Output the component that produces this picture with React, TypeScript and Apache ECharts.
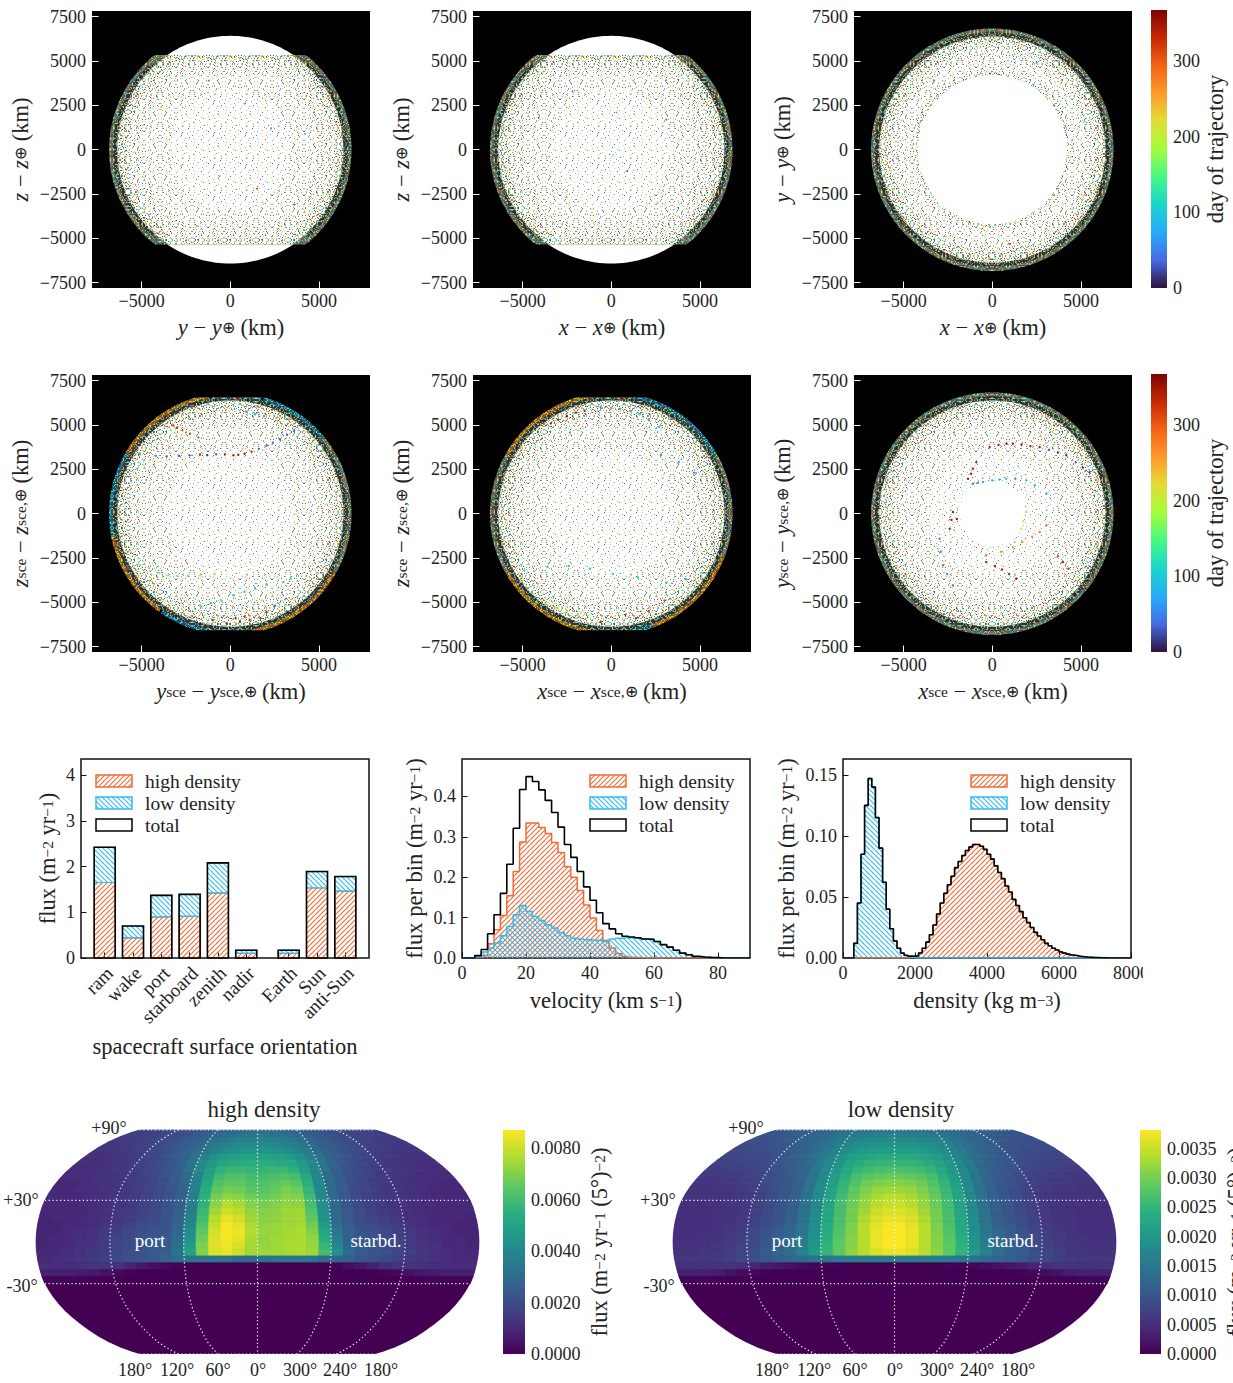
import React, { useEffect, useRef } from "react";
import * as echarts from "echarts";

const FONT = "Liberation Serif";
const INK = "#222";
const ORANGE = "#EE6B37";
const BLUE = "#33BBEE";

// ---------- values ----------
const SURFACES = ["ram", "wake", "port", "starboard", "zenith", "nadir", "Earth", "Sun", "anti-Sun"];
const SURFACE_POS = [0, 1, 2, 3, 4, 5, 6.5, 7.5, 8.5];
const SURFACE_HIGH = [1.65, 0.44, 0.9, 0.91, 1.42, 0.1, 0.1, 1.53, 1.46];
const SURFACE_LOW = [0.77, 0.26, 0.47, 0.48, 0.66, 0.07, 0.07, 0.36, 0.32];

const VEL_BIN = 2;
const VEL_HIGH = [0, 0, 0.003, 0.006, 0.035, 0.07, 0.105, 0.154, 0.214, 0.287, 0.334, 0.334, 0.323, 0.308, 0.286, 0.261, 0.226, 0.2, 0.167, 0.131, 0.099, 0.068, 0.041, 0.025, 0.011, 0.004, 0.002, 0.001, 0, 0, 0, 0, 0, 0, 0, 0, 0, 0, 0, 0, 0, 0, 0, 0, 0];
const VEL_LOW = [0, 0, 0.003, 0.015, 0.025, 0.037, 0.055, 0.078, 0.107, 0.13, 0.115, 0.103, 0.093, 0.082, 0.074, 0.063, 0.055, 0.049, 0.047, 0.045, 0.044, 0.044, 0.044, 0.047, 0.049, 0.05, 0.05, 0.049, 0.047, 0.046, 0.041, 0.033, 0.027, 0.019, 0.012, 0.008, 0.004, 0.0025, 0.0015, 0.001, 0, 0, 0, 0, 0];

const DENS_BIN = 100;
const DENS_LOW = [0, 0, 0, 0.012, 0.045, 0.085, 0.125, 0.147, 0.14, 0.115, 0.09, 0.062, 0.04, 0.024, 0.014, 0.008, 0.004, 0.002, 0.001, 0.0005, 0.0002, 0.0001, 0, 0, 0, 0, 0, 0, 0, 0, 0, 0, 0, 0, 0, 0, 0, 0, 0, 0, 0, 0, 0, 0, 0, 0, 0, 0, 0, 0, 0, 0, 0, 0, 0, 0, 0, 0, 0, 0, 0, 0, 0, 0, 0, 0, 0, 0, 0, 0, 0, 0, 0, 0, 0, 0, 0, 0, 0, 0];
const DENS_HIGH = [0, 0, 0, 0, 0, 0, 0, 0, 0, 0, 0, 0, 0, 0, 0, 0, 0, 0.0002, 0.0005, 0.001, 0.0015, 0.004, 0.008, 0.013, 0.019, 0.027, 0.036, 0.045, 0.053, 0.06, 0.067, 0.074, 0.079, 0.084, 0.088, 0.091, 0.093, 0.093, 0.0915, 0.089, 0.085, 0.081, 0.0755, 0.07, 0.065, 0.059, 0.054, 0.048, 0.043, 0.038, 0.033, 0.029, 0.025, 0.021, 0.018, 0.015, 0.012, 0.01, 0.008, 0.0065, 0.005, 0.004, 0.0032, 0.0025, 0.002, 0.0015, 0.0011, 0.0008, 0.0006, 0.0004, 0.0003, 0.0002, 0.0001, 0, 0, 0, 0, 0, 0, 0];

// sky maps: rows from lat 90 down to -30 in 5 degree steps, columns lon -180..170 in 10 degree steps
const SKY_HIGH = [ // units of 1e-4
  [17,17,18,18,19,19,20,21,22,23,24,25,27,28,29,30,31,32,32,32,31,30,29,28,27,25,24,23,22,21,20,19,19,18,18,17],
  [16,16,17,18,18,19,20,21,22,24,25,27,29,31,32,33,34,34,35,34,33,32,31,29,27,25,24,22,21,20,19,18,18,17,17,16],
  [15,15,16,17,18,19,20,21,23,25,27,29,31,33,35,37,38,38,38,38,37,36,34,31,29,26,24,23,21,20,19,18,17,16,16,15],
  [14,14,15,16,17,18,19,21,23,25,27,30,33,36,38,40,41,41,41,41,40,38,36,33,30,27,25,23,21,19,18,17,16,15,15,14],
  [13,13,14,15,16,17,19,20,22,25,28,31,35,39,42,44,45,45,45,45,44,42,39,35,31,28,25,22,20,19,17,16,15,14,14,13],
  [12,12,13,14,15,16,18,19,22,25,28,33,38,43,47,49,50,50,50,50,49,47,43,38,33,28,25,22,19,18,16,15,14,13,13,12],
  [12,12,12,13,14,15,17,19,21,24,28,34,41,47,51,53,54,54,54,54,53,52,47,41,34,28,24,21,19,17,15,14,13,12,12,12],
  [11,11,12,13,14,15,16,18,20,23,27,33,41,49,55,58,58,57,57,58,58,55,48,40,33,27,23,20,18,16,15,14,13,12,11,11],
  [11,11,11,12,13,14,15,17,19,22,25,30,38,50,59,62,62,60,60,61,62,60,52,40,31,26,22,19,17,15,14,13,12,11,11,11],
  [10,10,11,12,13,14,15,16,18,21,24,29,38,52,62,65,65,62,62,64,66,64,55,41,31,25,21,18,16,15,13,12,11,11,10,10],
  [10,10,11,11,12,13,14,16,18,20,23,28,38,54,65,68,67,64,64,66,69,67,57,41,30,25,20,18,16,14,13,12,11,10,10,10],
  [10,10,10,11,12,13,14,15,17,20,22,27,36,55,68,72,71,67,66,68,71,70,59,41,30,24,20,17,15,14,13,12,11,10,10,10],
  [10,10,10,11,11,12,13,15,17,19,22,27,36,56,71,77,75,70,68,70,72,72,61,43,30,24,19,17,15,13,12,11,11,10,10,10],
  [10,10,10,10,11,12,14,15,17,19,22,27,37,58,74,80,78,72,70,71,74,74,63,44,30,24,20,17,15,13,12,11,10,10,10,10],
  [9,10,10,10,11,12,14,16,18,20,22,27,38,60,77,84,81,74,71,72,74,75,65,45,30,24,20,18,16,14,12,11,10,10,10,9],
  [9,9,10,10,11,13,15,17,20,21,22,28,40,62,79,86,83,76,72,73,74,75,67,48,32,25,21,20,17,15,13,11,10,10,9,9],
  [9,9,10,11,12,14,16,19,21,22,23,29,42,65,81,86,85,77,73,73,75,76,70,51,34,26,22,21,19,16,14,12,11,10,9,9],
  [9,10,10,11,12,15,17,19,22,23,24,30,44,67,82,86,84,76,72,74,75,76,72,54,37,27,23,22,19,17,15,12,11,10,10,9],
  [9,10,10,12,13,15,18,20,22,24,25,32,47,69,83,85,82,75,73,74,76,76,73,57,40,28,24,23,20,18,15,13,12,10,10,9],
  [10,10,11,12,14,16,18,21,22,25,26,34,50,70,82,84,80,74,74,74,75,76,74,60,43,30,25,23,21,18,16,14,12,11,10,10],
  [10,11,12,13,15,17,19,21,22,24,28,31,33,34,34,33,30,30,32,33,34,34,33,30,28,26,23,21,19,17,15,13,12,11,10,10],
  [11,11,11,12,13,13,12,9,6,4,2,1,0,0,0,0,0,0,0,0,0,0,0,0,1,3,5,8,11,13,13,12,11,11,11,11],
  [8,8,8,7,6,4,2,1,0,0,0,0,0,0,0,0,0,0,0,0,0,0,0,0,0,0,0,0,1,2,4,6,7,8,8,8],
  [1,1,1,1,0,0,0,0,0,0,0,0,0,0,0,0,0,0,0,0,0,0,0,0,0,0,0,0,0,0,0,0,1,1,1,1],
];
const SKY_LOW_LEFT = [ // units of 1e-5, lon -180..-10, right half read as its mirror
  [110,110,115,115,120,120,125,125,130,130,135,135,140,140,145,145,150,150],
  [100,100,105,110,115,120,125,130,135,140,145,150,155,160,165,165,165,170],
  [95,95,100,105,110,115,120,125,130,140,150,160,165,170,175,180,180,180],
  [90,90,95,95,100,105,115,120,130,140,150,165,175,185,190,195,195,195],
  [85,85,90,90,95,100,110,115,125,140,155,170,185,195,205,210,210,210],
  [80,80,85,85,90,95,105,115,125,140,155,175,195,210,220,225,230,230],
  [75,75,80,80,85,90,100,110,120,135,155,180,200,220,235,245,250,250],
  [70,70,75,75,80,85,95,105,115,130,155,180,205,230,250,260,265,270],
  [65,65,70,70,75,80,90,100,110,125,150,180,210,240,265,280,285,290],
  [60,60,65,65,70,75,85,95,105,120,150,180,215,250,275,295,305,310],
  [55,55,60,60,65,70,80,90,105,120,145,180,220,255,285,305,320,325],
  [55,55,55,55,60,65,75,90,100,120,145,180,220,260,290,315,330,340],
  [50,50,55,55,60,65,75,85,100,115,145,180,220,265,295,320,340,350],
  [50,50,50,55,55,65,75,85,100,115,145,180,225,265,300,325,350,360],
  [50,50,50,55,55,65,75,90,100,115,145,185,225,270,300,335,360,370],
  [50,50,50,55,60,65,75,90,105,120,150,185,230,270,305,340,365,378],
  [50,50,50,55,60,70,80,95,110,125,150,190,235,275,305,340,370,380],
  [50,50,55,55,65,70,85,100,115,130,155,195,240,280,310,340,370,380],
  [55,55,55,60,65,75,85,105,115,135,165,200,245,285,310,340,370,380],
  [55,55,60,60,70,80,90,110,120,140,170,205,250,285,315,340,360,370],
  [60,60,60,65,70,80,90,105,115,125,135,145,150,155,160,160,160,160],
  [55,55,55,55,55,50,40,30,25,20,12,7,3,2,1,0,0,0],
  [35,35,35,30,20,12,6,3,1,0,0,0,0,0,0,0,0,0],
  [5,5,3,1,0,0,0,0,0,0,0,0,0,0,0,0,0,0],
];

// a sample of individually legible impacts [km, km, day]; the dense field behind them is a texture
const PTS_YZ = [[-1200,3900,300],[800,2600,110],[2300,1200,60],[-2800,-900,190],[1500,-2200,330],[-300,-3700,150],[3600,-3100,30],[-3900,2400,240],[4200,900,90],[-1900,-4300,280],[300,700,170],[-600,-1500,70]];
const PTS_XZ = [[-2200,3300,60],[1200,3900,210],[3100,1700,310],[-3500,-400,130],[900,-1200,20],[2600,-3000,260],[-1000,-4100,180],[-4100,1800,340],[300,2100,100],[4000,-1500,50],[-2500,-2700,230],[100,-300,150]];
const PTS_XY = [[-3300,3900,300],[2500,4900,40],[5200,1600,120],[5100,-2600,220],[1000,-5300,330],[-2600,-4900,160],[-5400,-500,70],[-4800,2800,250],[3900,3900,190],[-500,5100,100]];
const PTS_YZ_SCE = [[3930,4980,40],[3600,4700,40],[3200,4450,30],[2800,4200,30],[2400,4000,35],[2050,3850,30],[1600,3650,40],[1200,3500,330],[800,3380,340],[450,3320,350],[170,3290,340],[-300,3350,330],[-800,3350,30],[-1300,3300,20],[-1710,3330,340],[-2300,3290,30],[-2900,3260,25],[-3590,3230,30],[-4200,3260,60],[-5100,3380,70],[-3215,4980,320],[-3000,4850,330],[-2700,4700,310],[-2275,4510,320],[-1800,4300,300],[3300,5300,260],[2600,5400,270],[1900,5500,70],[1400,5600,80],[900,5750,70],[-5100,-2900,170],[-4600,-3050,165],[-4000,-3350,160],[-3590,-3480,170],[-3000,-3500,165],[-2400,-3500,160],[-1710,-3480,170],[-900,-3400,175],[3400,-3650,120],[2990,-3850,110],[2050,-4000,100],[1400,-4200,105],[800,-4400,110],[170,-4600,100],[-500,-4900,110],[-1100,-5050,95],[-1700,-5170,115],[300,-5900,330],[545,-6100,340],[800,-5800,330],[1100,-6000,320],[2050,-5550,330],[1700,-5900,340],[-200,-6200,345],[2500,-5200,30],[-1000,-6000,350]];
const PTS_XZ_SCE = [[-600,6000,60],[0,5950,70],[500,5900,65],[1100,5800,70],[1600,5600,75],[2100,5300,80],[2700,4900,75],[-3400,5100,330],[-3000,5300,340],[-2500,5500,350],[-2000,5700,330],[-1500,5800,20],[-4200,-5000,170],[-3700,-5100,160],[-3100,-5300,170],[-2500,-5500,165],[-1900,-5700,175],[-4900,-3200,110],[-3600,-3000,100],[-2400,-2950,90],[-1200,-3100,110],[100,-3400,120],[1500,-3600,100],[3100,-3900,80],[4200,-3700,70],[800,-5700,330],[1400,-5900,340],[2100,-5500,320],[3000,-4900,310],[-600,-6100,340],[2800,3300,60],[3800,2900,55],[4700,2300,70]];
const PTS_XY_SCE = [[-150,3760,340],[350,3880,345],[800,3950,350],[1165,3950,350],[1650,3900,355],[2150,3820,345],[2670,3760,340],[3200,3600,30],[3700,3450,20],[4170,3290,350],[4700,2900,30],[5100,2600,340],[5490,2350,25],[-1090,1690,50],[-800,1750,55],[-530,1790,60],[0,1880,70],[400,1930,85],[790,1970,95],[1300,1950,80],[1920,1880,90],[2400,1600,70],[3050,1130,65],[-1370,1970,345],[-1200,2250,350],[-1090,2540,340],[-900,2900,345],[-2220,90,350],[-2300,-350,345],[-2400,-850,340],[-2000,-300,350],[-2970,-1410,50],[-2900,-2150,55],[-2780,-2910,45],[-2550,-3400,50],[-2220,-4040,60],[-340,-2730,345],[150,-2950,350],[550,-3150,345],[950,-3400,340],[1350,-3670,350],[3050,-660,290],[2670,-1030,280],[2250,-1300,270],[1700,-1600,260],[1165,-1880,265],[500,-2150,270],[-340,-2350,285],[1920,90,170],[1750,-400,180],[1640,-850,190],[3990,-2730,335],[3700,-2400,320],[4300,-3100,340]];

// ---------- colormaps ----------
const TURBO = ["#30123b", "#466be3", "#28abf8", "#18d6cb", "#46f884", "#a4fc3c", "#e1dd37", "#fe9b2d", "#f36315", "#c72803", "#7a0403"];
const VIRIDIS = ["#440154", "#472d7b", "#3b528b", "#2c728e", "#21918c", "#28ae80", "#5ec962", "#addc30", "#fde725"];
const hex = (h: string) => [1, 3, 5].map((i) => parseInt(h.slice(i, i + 2), 16));
const sample = (map: string[], t: number) => {
  const p = Math.max(0, Math.min(0.99999, t)) * (map.length - 1);
  const i = Math.floor(p);
  const a = hex(map[i]), b = hex(map[i + 1]), f = p - i;
  return `rgb(${a.map((v, k) => Math.round(v + (b[k] - v) * f)).join(",")})`;
};
const stops = (map: string[]) => map.map((c, i) => ({ offset: i / (map.length - 1), color: c }));

// ---------- textures ----------
const SPECK_TILE = [
  "..3.......7.......1.........9...",
  ".........................4......",
  "......8.......2........6........",
  ".1..............9.............3.",
  "...........5..........0.........",
  "....6................7.....2....",
  "..............3.................",
  "8.........1..........9......5...",
  "......4.............2...........",
  "...........7.................0..",
  ".2...............6.......8......",
  ".........9......................",
  "....5...........1.......3.......",
  "...............................7",
  "..7........3..........5.........",
  "..........................1.....",
  "......0..........8..............",
  ".3.............4.........6......",
  "..........6...............9.....",
  "....9................2..........",
  "................7..........4....",
  ".5.......2......................",
  "...........8..........1.......6.",
  "...1.............0..............",
  ".......7..................3.....",
  "..............5.........8.......",
  ".9......3..............4........",
  ".....................6..........",
  "...6...........2.............1..",
  "............9..........7........",
  "..4...................0......8..",
  "........1........5..............",
];
const N = SPECK_TILE.length;
const at = (x: number, y: number) => SPECK_TILE[y][x] || ".";
const VIEWS: ((x: number, y: number) => string)[] = [
  (x, y) => at(x, y),
  (x, y) => at(N - 1 - x, y),
  (x, y) => at(x, N - 1 - y),
  (x, y) => at(y, x),
  (x, y) => at(N - 1 - y, x),
  (x, y) => at(y, N - 1 - x),
  (x, y) => at(N - 1 - x, N - 1 - y),
  (x, y) => at(N - 1 - y, N - 1 - x),
];
function speckle(layers: number, bg: string, alpha: number, lo: number, hi: number) {
  const c = document.createElement("canvas");
  c.width = c.height = N;
  const g = c.getContext("2d")!;
  g.fillStyle = bg;
  g.fillRect(0, 0, N, N);
  g.globalAlpha = alpha;
  for (let y = 0; y < N; y++) for (let x = 0; x < N; x++) {
    for (let v = 0; v < layers; v++) {
      const ch = VIEWS[v](x, y);
      if (ch !== ".") {
        g.fillStyle = sample(TURBO, lo + ((+ch + 0.5) / 10) * (hi - lo));
        g.fillRect(x, y, 1, 1);
      }
    }
  }
  return { image: c, repeat: "repeat", imageWidth: N, imageHeight: N };
}
function hatch(color: string, forward: boolean, size = 5) {
  const c = document.createElement("canvas");
  c.width = c.height = size;
  const g = c.getContext("2d")!;
  g.strokeStyle = color;
  g.lineWidth = 1.15;
  for (const o of [-size, 0, size]) {
    g.beginPath();
    if (forward) { g.moveTo(o, size); g.lineTo(o + size, 0); }
    else { g.moveTo(o, 0); g.lineTo(o + size, size); }
    g.stroke();
  }
  return { image: c, repeat: "repeat", imageWidth: size, imageHeight: size };
}

// ---------- Robinson projection table (lat 0..90 by 5) ----------
const ROB_LEN = [1, 0.9986, 0.9954, 0.99, 0.9822, 0.973, 0.96, 0.9427, 0.9216, 0.8962, 0.8679, 0.835, 0.7986, 0.7597, 0.7186, 0.6732, 0.6213, 0.5722, 0.5322];
const ROB_DROP = [0, 0.062, 0.124, 0.186, 0.248, 0.31, 0.372, 0.434, 0.4958, 0.5571, 0.6176, 0.6769, 0.7346, 0.7903, 0.8435, 0.8936, 0.9394, 0.9761, 1];
const rob = (lon: number, lat: number): [number, number] => {
  const i = Math.round(Math.abs(lat) / 5);
  return [(lon / 180) * ROB_LEN[i], (lat < 0 ? -1 : 1) * ROB_DROP[i]];
};

// ---------- shared text ----------
const RICH = {
  n: { fontFamily: FONT, fontSize: 22.5, color: INK, lineHeight: 30, verticalAlign: "middle" },
  i: { fontFamily: FONT, fontSize: 22.5, fontStyle: "italic", color: INK, lineHeight: 30 },
  s: { fontFamily: FONT, fontSize: 15.5, color: INK, verticalAlign: "bottom", lineHeight: 30, height: 30 },
  u: { fontFamily: FONT, fontSize: 15.5, color: INK, verticalAlign: "top", lineHeight: 30, height: 30 },
};
const nameStyle = { fontFamily: FONT, fontSize: 22.5, color: INK, rich: RICH };
const labelStyle = (fmt: any, margin = 6) => ({
  fontFamily: FONT, fontSize: 18, color: INK, margin, formatter: fmt,
});
const minus = (v: number) => String(v).replace("-", "\u2212");
const FLUX = "{n|flux (m}{u|\u22122}{n| yr}{u|\u22121}{n|)}";
const FLUX_BIN = "{n|flux per bin (m}{u|\u22122}{n| yr}{u|\u22121}{n|)}";
const FLUX_SKY = "{n|flux (m}{u|\u22122}{n| yr}{u|\u22121}{n| (5\u00b0)}{u|\u22122}{n|)}";
const coordName = (v: string) => `{i|${v}}{n| \u2212 }{i|${v}}{s|\u2295}{n| (km)}`;
const sceName = (v: string) => `{i|${v}}{s|sce}{n| \u2212 }{i|${v}}{s|sce,\u2295}{n| (km)}`;

const KM_X = [-5000, 0, 5000];
const KM_Y = [-7500, -5000, -2500, 0, 2500, 5000, 7500];
const DAY_TICKS = [0, 100, 200, 300];
const NO_LINE = { show: false, onZero: false };

function build() {
  const grids: any[] = [], xAxes: any[] = [], yAxes: any[] = [], series: any[] = [];
  const addGrid = (g: any, x: any, y: any) => {
    grids.push({ containLabel: false, outerBoundsMode: "none", ...g });
    xAxes.push({ gridIndex: grids.length - 1, type: "value", splitLine: { show: false }, axisLine: NO_LINE, ...x });
    yAxes.push({ gridIndex: grids.length - 1, type: "value", splitLine: { show: false }, axisLine: NO_LINE, ...y });
    return grids.length - 1;
  };

  const tex = {
    W: "#fff",
    C: speckle(1, "#fff", 0.8, 0, 1),
    S: speckle(2, "#fff", 0.8, 0, 1),
    M: speckle(3, "#fff", 0.85, 0, 1),
    H: speckle(5, "#fff", 0.9, 0, 1),
    R: speckle(8, "#fff", 0.9, 0, 1),
    Dmix: speckle(8, "#5a6a60", 1, 0, 1),
    Ddark: speckle(8, "#2a3236", 0.9, 0, 1),
    Dwarm: speckle(8, "#7a6a2c", 1, 0.48, 1),
    Dcool: speckle(8, "#1f5068", 1, 0.03, 0.48),
  } as any;

  // [radius km, flat cut km (0 = none), texture, from deg, to deg]
  const cutRing = (cut: number) => [[6840, cut, "Dmix"], [6630, 0, "Ddark", -48, 48], [6630, 0, "Ddark", 132, 228], [6380, cut, "R"], [6150, cut - 130, "H"], [5800, cut - 350, "M"], [4900, cut - 1000, "S"], [3400, 0, "C"]];
  const rimSce = (cut: number, sec: any[]) => [...sec.map((s) => [6840, cut, s[2], s[0], s[1]]), [6630, cut ? cut - 30 : 0, "Ddark"], [6380, cut ? cut - 100 : 0, "R"], [6150, cut ? cut - 300 : 0, "H"], [5700, cut ? cut - 700 : 0, "M"], [5000, cut ? cut - 1500 : 0, "S"], [3600, 0, "C"]];
  const PANELS = [
    { left: 92, top: 11, xn: coordName("y"), yn: coordName("z"), pts: PTS_YZ, size: 1.8, layers: [[6420, 0, "W"], ...cutRing(5340)] },
    { left: 473, top: 11, xn: coordName("x"), yn: coordName("z"), pts: PTS_XZ, size: 1.8, layers: [[6420, 0, "W"], ...cutRing(5340)] },
    { left: 854, top: 11, xn: coordName("x"), yn: coordName("y"), pts: PTS_XY, size: 1.8, layers: [[6840, 0, "Dmix"], [6630, 0, "Ddark"], [6380, 0, "R"], [6150, 0, "H"], [5750, 0, "M"], [5200, 0, "S"], [4650, 0, "M"], [4350, 0, "H"], [4210, 0, "W"]] },
    { left: 92, top: 375, xn: sceName("y"), yn: sceName("z"), pts: PTS_YZ_SCE, size: 2.4, layers: rimSce(6570, [[-30, 40, "Dmix"], [40, 75, "Dcool"], [75, 100, "Dmix"], [100, 150, "Dwarm"], [150, 190, "Dcool"], [190, 235, "Dwarm"], [235, 280, "Dcool"], [280, 330, "Dwarm"]]) },
    { left: 473, top: 375, xn: sceName("x"), yn: sceName("z"), pts: PTS_XZ_SCE, size: 2.4, layers: rimSce(6570, [[-20, 30, "Dmix"], [30, 80, "Dcool"], [80, 150, "Dwarm"], [150, 210, "Dmix"], [210, 260, "Dwarm"], [260, 290, "Dcool"], [290, 340, "Dwarm"]]) },
    { left: 854, top: 375, xn: sceName("x"), yn: sceName("y"), pts: PTS_XY_SCE, size: 2.4, layers: [...rimSce(0, [[0, 360, "Dmix"]]), [1830, 0, "W"]] },
  ];

  PANELS.forEach((p) => {
    const gi = addGrid(
      { left: p.left, top: p.top, width: 278, height: 277, backgroundColor: "#000", show: true, borderWidth: 0 },
      {
        min: -7800, max: 7880,
        axisTick: { inside: true, length: 6.5, lineStyle: { color: "#fff", width: 1 }, customValues: KM_X },
        axisLabel: { ...labelStyle(minus, 4), customValues: KM_X },
        name: p.xn, nameLocation: "middle", nameGap: 24, nameTextStyle: nameStyle,
      },
      {
        min: -7800, max: 7820,
        axisTick: { inside: true, length: 6.5, lineStyle: { color: "#fff", width: 1 }, customValues: KM_Y },
        axisLabel: { ...labelStyle(minus, 6), customValues: KM_Y },
        name: p.yn, nameLocation: "middle", nameGap: 56, nameTextStyle: nameStyle,
      },
    );
    series.push({
      type: "custom", xAxisIndex: gi, yAxisIndex: gi, silent: true, clip: true,
      data: p.layers.map((_, i) => [i]),
      renderItem: (params: any, api: any) => {
        const [R, cut, key, a1, a2] = p.layers[params.dataIndex] as any[];
        const pts: number[][] = [];
        const from = a1 ?? 0, to = a2 ?? 360, sectored = a1 !== undefined;
        if (sectored) pts.push(api.coord([0, 0]));
        for (let a = from; a <= to + 0.01; a += 2) {
          const r = (a * Math.PI) / 180;
          let yv = R * Math.sin(r);
          if (cut) yv = Math.max(-cut, Math.min(cut, yv));
          pts.push(api.coord([R * Math.cos(r), yv]));
        }
        return { type: "polygon", shape: { points: pts }, style: { fill: tex[key] } };
      },
      z: 2,
    });
    series.push({
      type: "scatter", xAxisIndex: gi, yAxisIndex: gi, silent: true, symbolSize: p.size, z: 3,
      data: p.pts,
      itemStyle: { color: (d: any) => sample(TURBO, d.value[2] / 367), opacity: 1 },
    });
  });

  // day colourbars
  [10, 374].forEach((top) => {
    const gi = addGrid(
      { left: 1151, top, width: 16, height: 278 },
      { min: 0, max: 1, show: false },
      {
        min: 0, max: 367, position: "right",
        axisTick: { inside: true, length: 6, lineStyle: { color: "#fff", width: 1 }, customValues: DAY_TICKS },
        axisLabel: { ...labelStyle(String, 6), customValues: DAY_TICKS },
        name: "{n|day of trajectory}", nameLocation: "middle", nameRotate: 90, nameGap: 31, nameTextStyle: nameStyle,
      },
    );
    series.push({
      type: "custom", xAxisIndex: gi, yAxisIndex: gi, silent: true, data: [[0]],
      renderItem: (_: any, api: any) => {
        const a = api.coord([0, 367]), b = api.coord([1, 0]);
        return {
          type: "rect", shape: { x: a[0], y: a[1], width: b[0] - a[0], height: b[1] - a[1] },
          style: { fill: new echarts.graphic.LinearGradient(0, 1, 0, 0, stops(TURBO)) },
        };
      },
    });
  });

  // surface flux bars
  const frame = { show: true, borderColor: "#111", borderWidth: 1.5, backgroundColor: "#fff" };
  const tickIn = (values: number[]) => ({ inside: true, length: 5.5, lineStyle: { color: "#111", width: 1 }, customValues: values });
  const gBar = addGrid(
    { left: 81, top: 759, width: 288, height: 199, ...frame },
    {
      min: -0.837, max: 9.337, axisTick: tickIn(SURFACE_POS),
      axisLabel: { show: false },
      name: "{n|spacecraft surface orientation}", nameLocation: "middle", nameGap: 73, nameTextStyle: nameStyle,
    },
    {
      min: 0, max: 4.35, axisTick: tickIn([0, 1, 2, 3, 4]),
      axisLabel: { ...labelStyle(String, 6), customValues: [0, 1, 2, 3, 4] },
      name: FLUX, nameLocation: "middle", nameGap: 19, nameTextStyle: nameStyle,
    },
  );
  const hatchHigh = hatch(ORANGE, true), hatchLow = hatch(BLUE, false);
  const barRects = (rows: number[][], z: number, style: any) => {
    series.push({
      type: "custom", xAxisIndex: gBar, yAxisIndex: gBar, silent: true, z, data: rows,
      renderItem: (params: any, api: any) => {
        const [x, y0, y1] = rows[params.dataIndex];
        const a = api.coord([x, y1]), b = api.coord([x, y0]);
        return { type: "rect", shape: { x: a[0] - 10.5, y: a[1], width: 21, height: b[1] - a[1] }, style };
      },
    });
  };
  barRects(SURFACE_POS.map((x, i) => [x, 0, SURFACE_HIGH[i]]), 2, { fill: hatchHigh, stroke: ORANGE, lineWidth: 1.2 });
  barRects(SURFACE_POS.map((x, i) => [x, SURFACE_HIGH[i], SURFACE_HIGH[i] + SURFACE_LOW[i]]), 2, { fill: hatchLow, stroke: BLUE, lineWidth: 1.2 });
  barRects(SURFACE_POS.map((x, i) => [x, 0, SURFACE_HIGH[i] + SURFACE_LOW[i]]), 3, { fill: "none", stroke: "#000", lineWidth: 1.6 });

  // histograms
  const steps = (vals: number[], bin: number) => [...vals.map((v, i) => [i * bin, v]), [vals.length * bin, vals[vals.length - 1]]];
  const histo = (gi: number, high: number[], low: number[], bin: number) => {
    const base = { type: "line", xAxisIndex: gi, yAxisIndex: gi, step: "end", showSymbol: false, silent: true };
    series.push({ ...base, data: steps(high, bin), lineStyle: { color: ORANGE, width: 1.5 }, areaStyle: { color: hatchHigh, opacity: 1 }, z: 2 });
    series.push({ ...base, data: steps(low, bin), lineStyle: { color: BLUE, width: 1.5 }, areaStyle: { color: hatchLow, opacity: 1 }, z: 3 });
    series.push({ ...base, data: steps(high.map((h, i) => h + low[i]), bin), lineStyle: { color: "#000", width: 1.6 }, z: 4 });
  };
  const fmt1 = (v: number) => v.toFixed(1);
  const fmt2 = (v: number) => v.toFixed(2);
  const VT = [0, 20, 40, 60, 80], VY = [0, 0.1, 0.2, 0.3, 0.4];
  const gVel = addGrid(
    { left: 462, top: 759, width: 288, height: 199, ...frame },
    {
      min: 0, max: 90, axisTick: tickIn(VT),
      axisLabel: { ...labelStyle(String, 6), customValues: VT },
      name: "{n|velocity (km s}{u|\u22121}{n|)}", nameLocation: "middle", nameGap: 27, nameTextStyle: nameStyle,
    },
    {
      min: 0, max: 0.4925, axisTick: tickIn(VY),
      axisLabel: { ...labelStyle(fmt1, 6), customValues: VY },
      name: FLUX_BIN, nameLocation: "middle", nameGap: 33, nameTextStyle: nameStyle,
    },
  );
  histo(gVel, VEL_HIGH, VEL_LOW, VEL_BIN);
  const DT = [0, 2000, 4000, 6000, 8000], DY = [0, 0.05, 0.1, 0.15];
  const gDen = addGrid(
    { left: 843, top: 759, width: 288, height: 199, ...frame },
    {
      min: 0, max: 8000, axisTick: tickIn(DT),
      axisLabel: { ...labelStyle(String, 6), customValues: DT },
      name: "{n|density (kg m}{u|\u22123}{n|)}", nameLocation: "middle", nameGap: 27, nameTextStyle: nameStyle,
    },
    {
      min: 0, max: 0.163, axisTick: tickIn(DY),
      axisLabel: { ...labelStyle(fmt2, 6), customValues: DY },
      name: FLUX_BIN, nameLocation: "middle", nameGap: 41, nameTextStyle: nameStyle,
    },
  );
  histo(gDen, DENS_HIGH, DENS_LOW, DENS_BIN);

  // sky maps
  const SKY = [
    { left: 36, rows: SKY_HIGH.map((r) => r.map((v) => v * 1e-4)), max: 0.0087, barLeft: 503, barWidth: 22, ticks: [0, 0.002, 0.004, 0.006, 0.008] },
    { left: 673, rows: SKY_LOW_LEFT.map((r) => [...r, ...[...r].reverse()].map((v) => v * 1e-5)), max: 0.00382, barLeft: 1140, barWidth: 21, ticks: [0, 0.0005, 0.001, 0.0015, 0.002, 0.0025, 0.003, 0.0035] },
  ];
  SKY.forEach((m) => {
    const gi = addGrid(
      { left: m.left, top: 1130, width: 443, height: 224 },
      { min: -1, max: 1, show: false },
      { min: -1, max: 1, show: false },
    );
    const latEdges = ROB_LEN.map((_, i) => i * 5);
    const rim = [
      ...[...latEdges].reverse().map((l) => rob(-180, l)),
      ...latEdges.slice(1).map((l) => rob(-180, -l)),
      ...[...latEdges].reverse().map((l) => rob(180, -l)),
      ...latEdges.slice(1).map((l) => rob(180, l)),
    ];
    const base = { type: "custom", xAxisIndex: gi, yAxisIndex: gi, silent: true, clip: false };
    series.push({
      ...base, z: 1, data: [[0]],
      renderItem: (_: any, api: any) => ({
        type: "polygon", shape: { points: rim.map((q) => api.coord(q)) }, style: { fill: VIRIDIS[0] },
      }),
    });
    const cells: number[][] = [];
    m.rows.forEach((row, r) => row.forEach((v, c) => cells.push([-180 + c * 10, 90 - r * 5, v])));
    series.push({
      ...base, z: 2, data: cells,
      renderItem: (params: any, api: any) => {
        const [lon, lat, v] = cells[params.dataIndex];
        const col = sample(VIRIDIS, v / m.max);
        return {
          type: "polygon",
          shape: { points: [rob(lon, lat), rob(lon + 10, lat), rob(lon + 10, lat - 5), rob(lon, lat - 5)].map((q) => api.coord(q)) },
          style: { fill: col, stroke: col, lineWidth: 0.7 },
        };
      },
    });
    const meridians = [-120, -60, 0, 60, 120];
    const lats = Array.from({ length: 37 }, (_, i) => 90 - i * 5);
    series.push({
      ...base, z: 3, data: meridians.map((l) => [l]),
      renderItem: (params: any, api: any) => ({
        type: "polyline",
        shape: { points: lats.map((l) => api.coord(rob(meridians[params.dataIndex], l))) },
        style: { stroke: "#fff", fill: "none", lineWidth: 1.2, lineDash: [1.2, 2.6] },
      }),
    });
    const parallels = [90, 30, -30, -90];
    series.push({
      ...base, z: 3, data: parallels.map((l) => [l]),
      renderItem: (params: any, api: any) => ({
        type: "polyline",
        shape: { points: [rob(-180, parallels[params.dataIndex]), rob(180, parallels[params.dataIndex])].map((q) => api.coord(q)) },
        style: { stroke: "#fff", fill: "none", lineWidth: 1.2, lineDash: [1.2, 2.6] },
      }),
    });
    // colourbar
    const gc = addGrid(
      { left: m.barLeft, top: 1130, width: m.barWidth, height: 224 },
      { min: 0, max: 1, show: false },
      {
        min: 0, max: m.max, position: "right",
        axisTick: { inside: true, length: 4.5, lineStyle: { color: "#fff", width: 1 }, customValues: m.ticks },
        axisLabel: { ...labelStyle((v: number) => v.toFixed(4), 6), customValues: m.ticks },
        name: FLUX_SKY, nameLocation: "middle", nameRotate: 90, nameGap: 55, nameTextStyle: nameStyle,
      },
    );
    series.push({
      type: "custom", xAxisIndex: gc, yAxisIndex: gc, silent: true, data: [[0]],
      renderItem: (_: any, api: any) => {
        const a = api.coord([0, m.max]), b = api.coord([1, 0]);
        return {
          type: "rect", shape: { x: a[0], y: a[1], width: b[0] - a[0], height: b[1] - a[1] },
          style: { fill: new echarts.graphic.LinearGradient(0, 1, 0, 0, stops(VIRIDIS)) },
        };
      },
    });
  });

  // overlaid legends and labels
  const txt = (x: number, y: number, text: string, size = 18, fill = INK, align = "center") => ({
    type: "text", x, y, z: 100,
    style: { text, fill, fontFamily: FONT, fontSize: size, align, verticalAlign: "middle" },
  });
  const graphic: any[] = [];
  SURFACES.forEach((name, i) => {
    const tick = 81 + ((SURFACE_POS[i] + 0.837) / 10.174) * 288;
    graphic.push({
      type: "text", x: tick + 5, y: 970, z: 100, rotation: Math.PI / 4,
      style: { text: name, fill: INK, fontFamily: FONT, fontSize: 19, align: "right", verticalAlign: "middle" },
    });
  });
  [[96, 145], [590, 639], [971, 1020]].forEach(([px, tx]) => {
    [
      [775, hatchHigh, ORANGE, "high density"],
      [797, hatchLow, BLUE, "low density"],
      [819, null, "#000", "total"],
    ].forEach(([y, fill, stroke, label]: any) => {
      graphic.push({
        type: "rect", z: 100, shape: { x: px, y, width: 36, height: 12 },
        style: { fill: fill ?? "rgba(0,0,0,0)", stroke, lineWidth: 1.5 },
      });
      graphic.push(txt(tx, y + 6, label, 19.5, INK, "left"));
    });
  });
  graphic.push({ type: "rect", z: 100, shape: { x: 1143, y: 963, width: 12, height: 24 }, style: { fill: "#fff" } });
  const SKY_LON_LABELS = ["180\u00b0", "120\u00b0", "60\u00b0", "0\u00b0", "300\u00b0", "240\u00b0", "180\u00b0"];
  const SKY_LON_X = [135, 177, 218, 258, 300, 340, 381];
  [["high density", 0], ["low density", 637]].forEach(([title, dx]: any) => {
    graphic.push(txt(264 + dx, 1109.5, title, 23));
    graphic.push(txt(109 + dx, 1128, "+90\u00b0", 18));
    graphic.push(txt(21 + dx, 1200, "+30\u00b0", 18));
    graphic.push(txt(22 + dx, 1286, "-30\u00b0", 18));
    graphic.push(txt(150 + dx, 1240, "port", 19, "#fff"));
    graphic.push(txt(376 + dx, 1240, "starbd.", 19, "#fff"));
    SKY_LON_LABELS.forEach((l, i) => graphic.push(txt(SKY_LON_X[i] + dx, 1370, l, 18)));
  });

  return { animation: false, backgroundColor: "#fff", grid: grids, xAxis: xAxes, yAxis: yAxes, series, graphic };
}

export default function App() {
  const ref = useRef<HTMLDivElement>(null);
  useEffect(() => {
    document.body.style.margin = "0";
    const chart = echarts.init(ref.current!, undefined, { renderer: "svg" });
    chart.setOption(build() as any);
    return () => chart.dispose();
  }, []);
  return <div ref={ref} style={{ width: 1233, height: 1383, overflow: "hidden" }} />;
}
